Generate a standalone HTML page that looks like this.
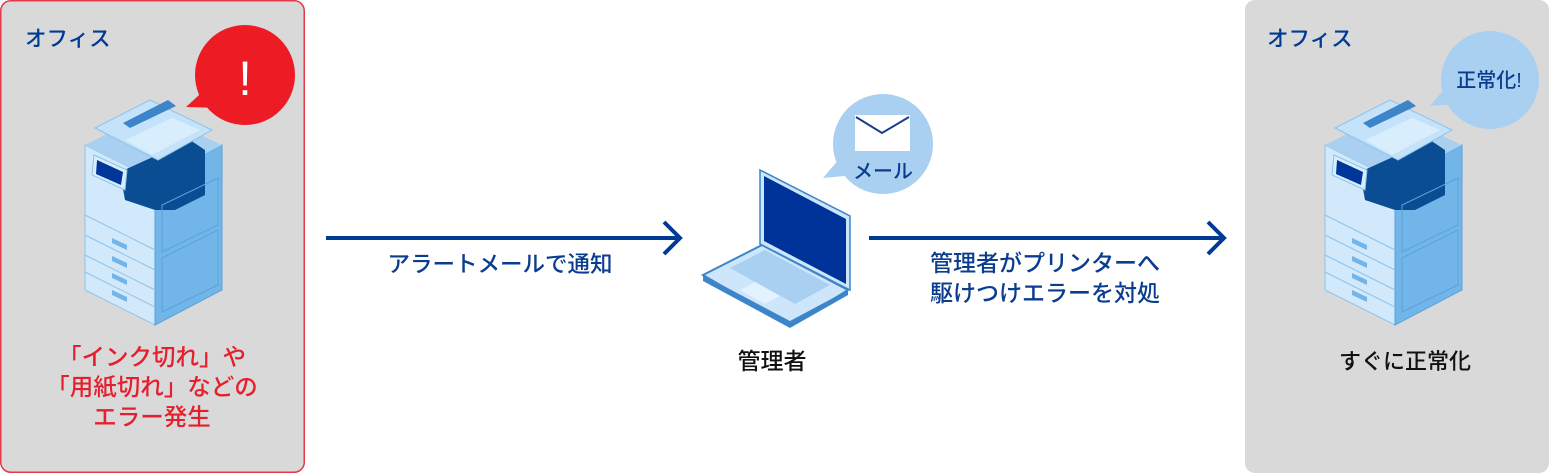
<!DOCTYPE html>
<html><head><meta charset="utf-8"><style>
html,body{margin:0;padding:0;background:#fff;}
svg{display:block;}
text{font-family:"Liberation Sans","Noto Sans CJK JP",sans-serif;font-weight:500;}
</style></head><body>
<svg width="1549" height="474" viewBox="0 0 1549 474" xmlns="http://www.w3.org/2000/svg">
<defs>
<g id="printer">
  <polygon points="85,145 155,180 155,325 85,290" fill="#d2e9fb" stroke="#8cc2ec" stroke-width="1"/>
  <polygon points="155,180 222,145 222,290 155,325" fill="#72b5e9" stroke="#5aa2dc" stroke-width="1"/>
  <polygon points="85,145 150,112 222,145 155,180" fill="#a9d0f1"/>
  <polygon points="120,172 190,140 205,150 205,195 175,210 155,210 125,200" fill="#0b4d93"/>
  <polygon points="95,128 150,100 212,130 158,160" fill="#c4e2f9" stroke="#8cc2ec"/>
  <polygon points="123,123 168,100 176,106 130,128" fill="#3d85c9"/>
  <polygon points="125,140 172,118 200,130 152,155" fill="#d8eefd"/>
  <polygon points="94,155 127,170 125,190 92,175" fill="#d8eefd" stroke="#8cc2ec"/>
  <polygon points="97,160 123,172 121,185 96,174" fill="#00369a"/>
  <polygon points="162,205 218,178 218,225 162,252" fill="none" stroke="#5aa2dc"/>
  <polygon points="162,258 218,230 218,285 162,312" fill="none" stroke="#5aa2dc"/>
  <g stroke="#8cc2ec" fill="none">
   <line x1="85" y1="215" x2="155" y2="250"/><line x1="85" y1="235" x2="155" y2="270"/>
   <line x1="85" y1="255" x2="155" y2="290"/><line x1="85" y1="272" x2="155" y2="307"/>
  </g>
  <g fill="#72b5e9">
   <polygon points="112,238 127,245 127,250 112,243"/><polygon points="112,256 127,263 127,268 112,261"/>
   <polygon points="112,273 127,280 127,285 112,278"/><polygon points="112,290 127,297 127,302 112,295"/>
  </g>
</g>
</defs>
<rect x="0.75" y="0.75" width="303.5" height="471.5" rx="10" fill="#d9d9d9" stroke="#e5394a" stroke-width="1.5"/>
<rect x="1245" y="0" width="304" height="473" rx="10" fill="#d9d9d9"/>
<text x="25" y="46" font-size="21.5" fill="#003a94">オフィス</text>
<text x="1267" y="46" font-size="21.5" fill="#003a94">オフィス</text>

<use href="#printer"/>
<use href="#printer" transform="translate(1240,0)"/>

<circle cx="245" cy="75" r="50" fill="#ed1c24"/>
<polygon points="186,107 210,85 220,108" fill="#ed1c24"/>
<text x="245" y="95" font-size="48" fill="#fff" text-anchor="middle" font-weight="bold">!</text>

<circle cx="1490" cy="80" r="49" fill="#a9d0f1"/>
<polygon points="1430,106 1450,82 1460,104" fill="#a9d0f1"/>
<text x="1489" y="87" font-size="20" fill="#0a3d8f" text-anchor="middle">正常化!</text>

<circle cx="883" cy="144" r="50" fill="#a9d0f1"/>
<polygon points="823,178 845,152 855,175" fill="#a9d0f1"/>
<rect x="855" y="115" width="55" height="36" fill="#fff"/>
<polyline points="856,117 882,133 909,117" fill="none" stroke="#1a3a8a" stroke-width="2"/>
<text x="883" y="178" font-size="20" fill="#0a3d8f" text-anchor="middle">メール</text>

<!-- laptop -->
<polygon points="703,275 762,245 848,290 790,326" fill="#cde6fb" stroke="#3d85c9" stroke-width="2"/>
<polygon points="703,275 790,321 848,290 848,295 790,328 703,281" fill="#3d85c9"/>
<polygon points="730,268 765,250 830,285 795,304" fill="#a9d0f1"/>
<polygon points="740,290 755,282 780,296 765,304" fill="#e2f2fe"/>
<polygon points="760,170 850,216 850,290 760,244" fill="#cde6fb" stroke="#3d85c9" stroke-width="1.5"/>
<polygon points="764,176 846,219 846,284 764,241" fill="#00339a"/>

<g stroke="#003a94" stroke-width="4" fill="none">
 <line x1="326" y1="238" x2="678" y2="238"/>
 <polyline points="664,222 680,238 664,254"/>
 <line x1="869" y1="238" x2="1222" y2="238"/>
 <polyline points="1208,222 1224,238 1208,254"/>
</g>
<text x="500" y="272" font-size="22.5" fill="#0a3d8f" text-anchor="middle">アラートメールで通知</text>
<text x="1045" y="271" font-size="23" fill="#0a3d8f" text-anchor="middle">管理者がプリンターへ</text>
<text x="1045" y="301" font-size="23" fill="#0a3d8f" text-anchor="middle">駆けつけエラーを対処</text>
<text x="772" y="369" font-size="23" fill="#111" text-anchor="middle">管理者</text>
<text x="1405" y="369" font-size="22" fill="#111" text-anchor="middle">すぐに正常化</text>
<g font-size="23.5" fill="#e5202e" text-anchor="middle">
 <text x="152" y="365">「インク切れ」や</text>
 <text x="152" y="395">「用紙切れ」などの</text>
 <text x="152" y="425">エラー発生</text>
</g>
</svg>
</body></html>
